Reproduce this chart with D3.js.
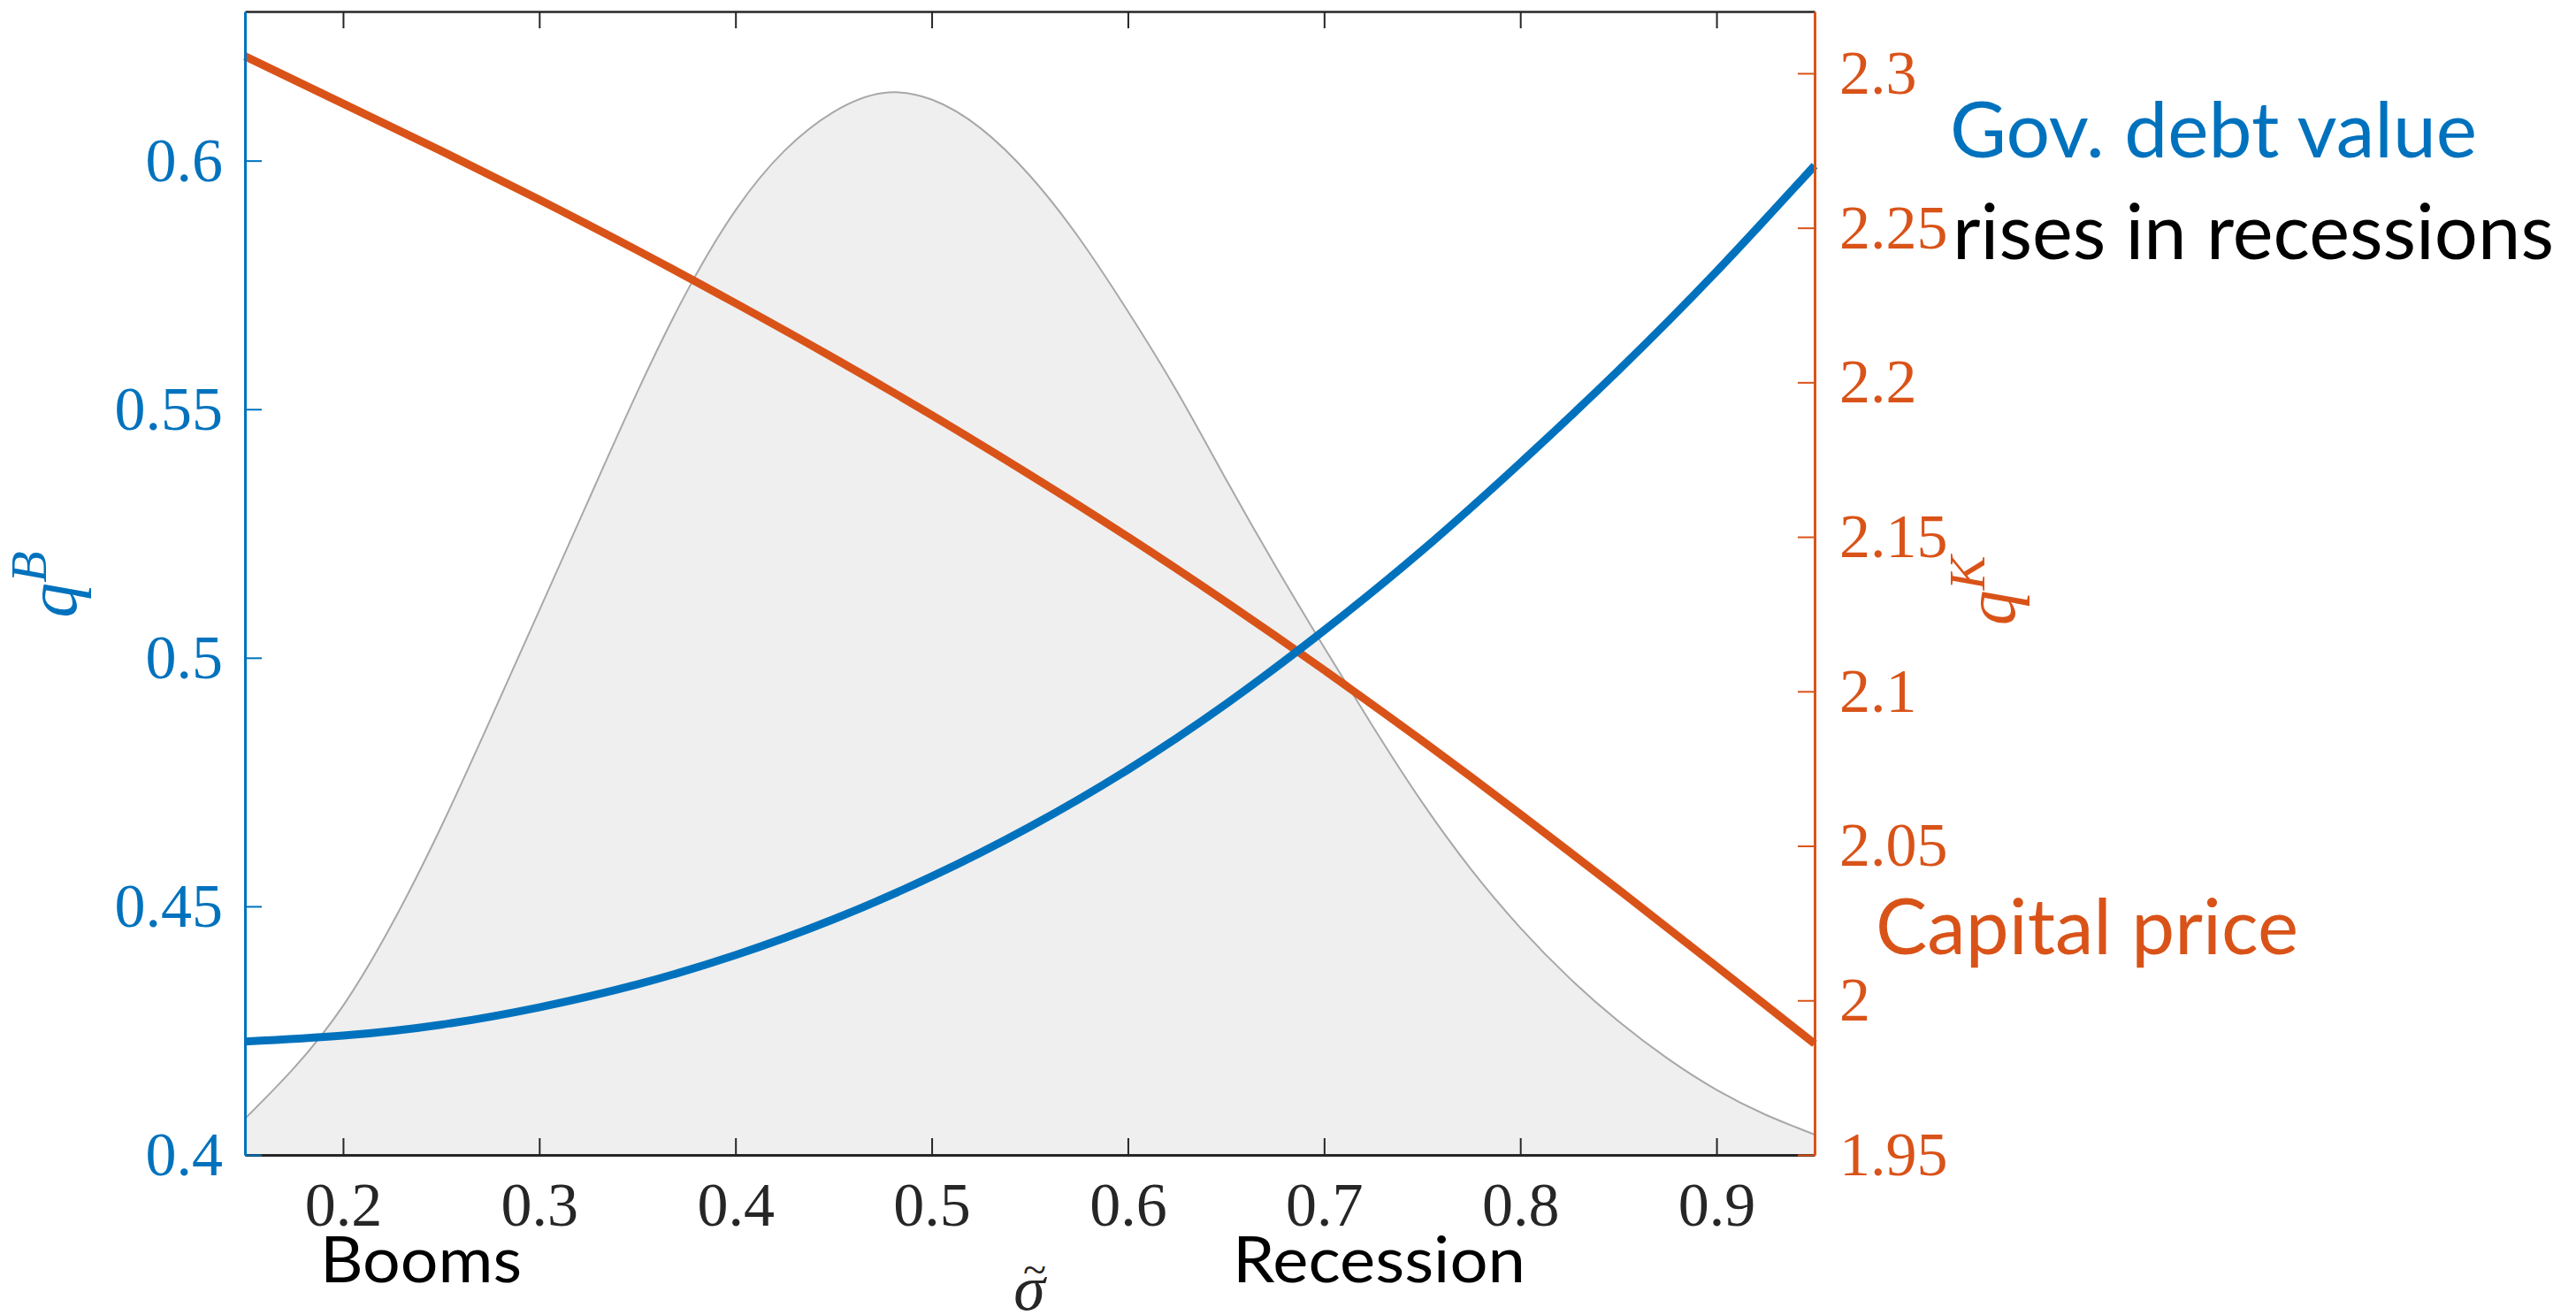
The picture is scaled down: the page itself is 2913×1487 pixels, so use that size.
<!DOCTYPE html>
<html lang="en">
<head>
<meta charset="utf-8">
<title>Gov. debt value and capital price</title>
<script src="https://cdn.jsdelivr.net/npm/d3@7"></script>
<style>
  body { margin: 0; background: #fff; }
  .tick text { font-family: "Liberation Serif", "DejaVu Serif", serif; }
  .note { font-family: Lato, "Open Sans", sans-serif; }
</style>
</head>
<body>
<script>
// state grid (sigma tilde)
var sigma = [0.15, 0.2, 0.25, 0.3, 0.35, 0.4, 0.45, 0.5, 0.55, 0.6, 0.65, 0.7, 0.75, 0.8, 0.85, 0.9, 0.95];
// government debt value q^B (left axis)
var qB = [0.4228, 0.4240, 0.4262, 0.4297, 0.4343, 0.4402, 0.4474, 0.4560, 0.4660, 0.4775, 0.4907, 0.5055, 0.5216, 0.5392, 0.5578, 0.5777, 0.5990];
// capital price q^K (right axis)
var qK = [2.3055, 2.2902, 2.2749, 2.2591, 2.2427, 2.2256, 2.2079, 2.1894, 2.1701, 2.1500, 2.1289, 2.1069, 2.0840, 2.0603, 2.0359, 2.0110, 1.9860];

// stationary density, drawn in left-axis units
var densX = [0.15, 0.175, 0.2, 0.225, 0.25, 0.275, 0.3, 0.325, 0.35, 0.375, 0.4, 0.425, 0.45, 0.475, 0.5,
             0.525, 0.55, 0.575, 0.6, 0.625, 0.65, 0.675, 0.7, 0.725, 0.75, 0.775, 0.8, 0.825, 0.85, 0.875, 0.9, 0.925, 0.95];
var densY = [0.4073, 0.4175, 0.4300, 0.4465, 0.4660, 0.4875, 0.5095, 0.5316, 0.5535, 0.5735, 0.5900, 0.6020, 0.6098, 0.6136, 0.6123,
             0.6065, 0.5970, 0.5845, 0.5697, 0.5536, 0.5359, 0.5186, 0.5021, 0.4861, 0.4709, 0.4574, 0.4457, 0.4356, 0.4269, 0.4194, 0.4131, 0.4081, 0.4041];

// ticks
var xTicks = [0.2, 0.3, 0.4, 0.5, 0.6, 0.7, 0.8, 0.9];
var xTickLabels = ["0.2", "0.3", "0.4", "0.5", "0.6", "0.7", "0.8", "0.9"];
var leftTicks = [0.4, 0.45, 0.5, 0.55, 0.6];
var leftTickLabels = ["0.4", "0.45", "0.5", "0.55", "0.6"];
var rightTicks = [1.95, 2, 2.05, 2.1, 2.15, 2.2, 2.25, 2.3];
var rightTickLabels = ["1.95", "2", "2.05", "2.1", "2.15", "2.2", "2.25", "2.3"];

var w = 2913, h = 1487;
var plotL = 277, plotR = 2052, plotT = 13, plotB = 1306;

var blue = "#0072BD", orange = "#D95319", dark = "#262626";

var x = d3.scaleLinear().domain([0.15, 0.95]).range([plotL, plotR]);
var yL = d3.scaleLinear().domain([0.4, 0.63]).range([plotB, plotT]);
var yR = d3.scaleLinear().domain([1.95, 2.32]).range([plotB, plotT]);

var svg = d3.select("body").append("svg")
    .attr("width", w)
    .attr("height", h);

// density shading
var dens = densX.map(function(d, i) { return [d, densY[i]]; });
svg.append("path")
    .datum(dens)
    .attr("fill", "#efefef")
    .attr("d", d3.area()
        .x(function(d) { return x(d[0]); })
        .y0(plotB)
        .y1(function(d) { return yL(d[1]); })
        .curve(d3.curveNatural));
svg.append("path")
    .datum(dens)
    .attr("fill", "none")
    .attr("stroke", "#a8a8a8")
    .attr("stroke-width", 2)
    .attr("d", d3.line()
        .x(function(d) { return x(d[0]); })
        .y(function(d) { return yL(d[1]); })
        .curve(d3.curveNatural));

// q^K line
svg.append("path")
    .datum(sigma)
    .attr("fill", "none")
    .attr("stroke", orange)
    .attr("stroke-width", 9)
    .attr("d", d3.line()
        .x(function(d) { return x(d); })
        .y(function(d, i) { return yR(qK[i]); })
        .curve(d3.curveNatural));

// q^B line
svg.append("path")
    .datum(sigma)
    .attr("fill", "none")
    .attr("stroke", blue)
    .attr("stroke-width", 9)
    .attr("d", d3.line()
        .x(function(d) { return x(d); })
        .y(function(d, i) { return yL(qB[i]); })
        .curve(d3.curveNatural));

// axes
function styleAxis(g, color, width) {
  g.select(".domain").attr("stroke", color).attr("stroke-width", width);
  g.selectAll(".tick line").attr("stroke", color).attr("stroke-width", 2);
  g.selectAll(".tick text").attr("fill", color).attr("font-size", 70);
}

svg.append("g")
    .attr("transform", "translate(0," + plotT + ")")
    .call(d3.axisTop(x).tickValues(xTicks).tickSize(-19).tickSizeOuter(0).tickFormat(""))
    .call(styleAxis, dark, 2.5);

svg.append("g")
    .attr("transform", "translate(0," + plotB + ")")
    .call(d3.axisBottom(x).tickValues(xTicks).tickSize(-19).tickSizeOuter(0).tickPadding(30)
        .tickFormat(function(d, i) { return xTickLabels[i]; }))
    .call(styleAxis, dark, 3);

svg.append("g")
    .attr("transform", "translate(" + plotL + ",0)")
    .call(d3.axisLeft(yL).tickValues(leftTicks).tickSize(-19).tickSizeOuter(0).tickPadding(25)
        .tickFormat(function(d, i) { return leftTickLabels[i]; }))
    .call(styleAxis, blue, 3);

svg.append("g")
    .attr("transform", "translate(" + plotR + ",0)")
    .call(d3.axisRight(yR).tickValues(rightTicks).tickSize(-19).tickSizeOuter(0).tickPadding(28)
        .tickFormat(function(d, i) { return rightTickLabels[i]; }))
    .call(styleAxis, orange, 3);

// axis labels
function mathLabel(px, py, sup, color) {
  var t = svg.append("text")
      .attr("transform", "translate(" + px + "," + py + ") rotate(-90)")
      .attr("text-anchor", "middle")
      .attr("fill", color)
      .attr("font-family", "'Liberation Serif', serif")
      .attr("font-style", "italic");
  t.append("tspan").attr("font-size", 80).text("q");
  t.append("tspan").attr("font-size", 58).attr("dy", -34).text(sup);
}
mathLabel(86, 661, "B", blue);
mathLabel(2278, 668, "K", orange);

// sigma tilde
svg.append("text")
    .attr("x", 1164)
    .attr("y", 1481)
    .attr("text-anchor", "middle")
    .attr("fill", dark)
    .attr("font-family", "'Liberation Serif', serif")
    .attr("font-style", "italic")
    .attr("font-size", 72)
    .text("σ");
svg.append("text")
    .attr("x", 1170)
    .attr("y", 1452)
    .attr("text-anchor", "middle")
    .attr("fill", dark)
    .attr("font-family", "'Liberation Serif', serif")
    .attr("font-size", 48)
    .text("~");

// annotations
function note(txt, px, py, len, color, size) {
  svg.append("text")
      .attr("class", "note")
      .attr("x", px)
      .attr("y", py)
      .attr("fill", color)
      .attr("font-size", size)
      .attr("textLength", len)
      .attr("lengthAdjust", "spacingAndGlyphs")
      .text(txt);
}
note("Gov. debt value", 2205, 178, 596, blue, 88);
note("rises in recessions", 2208, 293, 680, "#000", 88);
note("Capital price", 2121, 1079, 478, orange, 88);
note("Booms", 362, 1450, 228, "#000", 72);
note("Recession", 1394, 1450, 331, "#000", 72);
</script>
</body>
</html>
